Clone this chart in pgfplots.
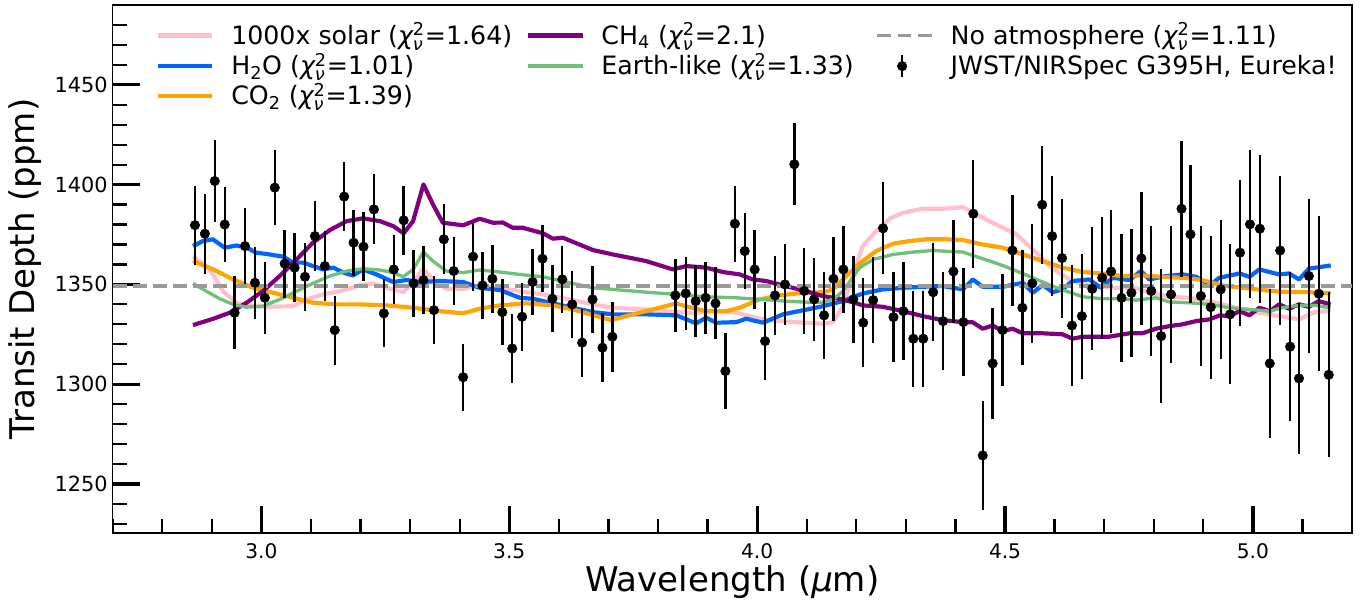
\documentclass[border=0pt]{standalone}
\usepackage{fontspec}
\setmainfont{DejaVu Sans}
\usepackage{amsmath}
\usepackage{pgfplots}
\usepackage{pgfplotstable}
\pgfplotsset{compat=1.18}

\definecolor{pinkc}{HTML}{FFC0CB}
\definecolor{bluec}{HTML}{0066FF}
\definecolor{orangec}{HTML}{FFA500}
\definecolor{purplec}{HTML}{800080}
\definecolor{greenc}{HTML}{70C07A}
\definecolor{grayc}{HTML}{999999}

\newcommand{\chinu}{$\text{\itshape χ}^{\text{2}}_{\text{\itshape ν}}$}

% observed spectrum: wavelength, depth, 1 sigma
\pgfplotstableread{
w d e
2.866 1379.7 19.8
2.886 1375.4 20.0
2.906 1401.8 20.6
2.926 1380.0 19.0
2.946 1335.8 18.4
2.967 1369.2 19.0
2.987 1350.8 18.0
3.007 1343.3 18.0
3.027 1398.5 18.9
3.047 1360.4 17.0
3.067 1358.4 17.2
3.088 1353.8 17.0
3.108 1374.2 17.7
3.128 1359.2 17.5
3.148 1327.1 17.3
3.167 1394.0 17.3
3.186 1370.9 16.5
3.206 1368.9 17.4
3.227 1387.6 17.5
3.247 1335.5 17.0
3.267 1357.5 17.3
3.287 1382.1 17.4
3.307 1350.5 16.9
3.327 1352.2 17.0
3.348 1337.1 17.0
3.368 1372.6 17.5
3.388 1356.7 17.2
3.407 1303.5 16.7
3.427 1363.9 17.0
3.446 1349.5 16.9
3.466 1352.8 17.0
3.486 1336.1 16.7
3.506 1317.9 17.1
3.526 1333.8 17.0
3.547 1351.2 16.7
3.567 1362.9 16.7
3.587 1342.8 16.7
3.607 1352.5 16.9
3.627 1340.0 16.7
3.647 1320.8 17.1
3.668 1342.5 16.9
3.688 1318.3 17.3
3.708 1323.8 17.5
3.835 1344.5 18.4
3.856 1345.5 18.4
3.876 1341.6 18.0
3.896 1343.3 18.1
3.916 1340.5 18.0
3.936 1306.6 19.2
3.955 1380.4 19.0
3.975 1366.7 19.0
3.995 1357.5 19.7
4.016 1321.6 19.4
4.036 1344.5 19.6
4.056 1350.0 20.3
4.075 1410.2 20.5
4.095 1346.7 21.3
4.115 1342.5 20.9
4.135 1334.5 21.7
4.154 1352.8 21.1
4.174 1357.5 21.6
4.194 1342.5 21.7
4.214 1330.8 22.3
4.234 1342.1 21.7
4.254 1378.1 23.0
4.275 1333.6 22.7
4.295 1336.6 24.4
4.315 1322.8 24.0
4.335 1322.8 24.0
4.355 1346.1 24.4
4.375 1331.6 24.5
4.396 1356.5 25.9
4.416 1331.1 26.9
4.436 1385.4 27.0
4.455 1264.3 27.5
4.475 1310.4 27.8
4.495 1327.1 28.0
4.515 1367.0 27.7
4.535 1338.3 28.7
4.555 1350.5 29.7
4.575 1389.9 29.5
4.595 1374.2 30.0
4.615 1363.2 29.8
4.635 1329.4 30.5
4.655 1334.1 31.3
4.676 1347.8 30.9
4.696 1353.3 30.7
4.714 1356.5 31.0
4.735 1343.3 32.0
4.755 1345.8 32.2
4.775 1363.0 33.2
4.795 1346.7 32.7
4.815 1324.1 33.6
4.835 1345.0 34.3
4.856 1387.9 34.0
4.874 1375.1 34.5
4.895 1344.2 35.1
4.915 1338.6 35.8
4.935 1347.5 34.9
4.954 1335.0 35.1
4.974 1365.9 36.5
4.994 1380.1 37.0
5.014 1377.9 37.0
5.034 1310.4 37.4
5.055 1367.0 37.5
5.075 1318.8 37.4
5.093 1302.9 37.8
5.113 1354.2 38.4
5.133 1345.3 38.9
5.153 1304.7 41.4
}\obs

\pgfplotstableread{
w d
2.862 1364.2
2.896 1357.5
2.923 1346.6
2.950 1340.8
2.977 1339.1
3.010 1338.8
3.064 1339.1
3.091 1342.5
3.124 1345.0
3.158 1346.6
3.198 1349.5
3.225 1350.5
3.252 1348.3
3.286 1346.1
3.306 1350.8
3.326 1357.9
3.346 1352.5
3.373 1347.8
3.407 1347.8
3.440 1349.5
3.481 1348.3
3.521 1346.6
3.568 1345.0
3.622 1342.5
3.669 1340.0
3.709 1338.3
3.776 1337.5
3.837 1336.1
3.870 1335.7
3.911 1336.6
3.958 1335.8
4.005 1332.8
4.045 1331.6
4.099 1330.8
4.132 1330.3
4.153 1331.1
4.173 1339.1
4.190 1352.5
4.213 1369.2
4.240 1376.7
4.267 1382.9
4.294 1385.9
4.334 1387.9
4.374 1387.9
4.415 1388.7
4.455 1383.4
4.489 1379.2
4.523 1375.1
4.563 1365.9
4.596 1357.9
4.630 1352.5
4.670 1349.2
4.724 1348.3
4.764 1348.3
4.791 1345.8
4.832 1343.8
4.872 1343.3
4.926 1340.8
4.966 1338.3
5.013 1335.8
5.053 1334.1
5.093 1332.5
5.120 1335.8
5.157 1337.1
}\solar

\pgfplotstableread{
w d
2.862 1369.2
2.882 1371.7
2.902 1372.6
2.926 1368.4
2.950 1369.5
2.970 1368.4
2.990 1365.9
3.017 1365.0
3.044 1363.9
3.064 1360.9
3.084 1360.9
3.104 1359.2
3.124 1357.5
3.145 1358.4
3.165 1355.9
3.185 1354.5
3.205 1357.5
3.232 1355.0
3.266 1351.2
3.293 1352.2
3.319 1351.2
3.360 1351.7
3.407 1351.2
3.440 1348.3
3.481 1347.2
3.521 1343.3
3.548 1342.8
3.588 1340.5
3.628 1338.3
3.669 1336.1
3.709 1335.0
3.776 1335.0
3.837 1334.5
3.857 1332.5
3.877 1330.5
3.897 1333.3
3.918 1330.8
3.958 1331.1
3.978 1332.8
4.012 1330.8
4.052 1335.0
4.092 1337.0
4.133 1339.1
4.173 1341.6
4.203 1344.6
4.220 1345.8
4.253 1347.5
4.294 1348.3
4.334 1348.8
4.374 1349.2
4.415 1347.5
4.435 1352.5
4.455 1348.8
4.495 1348.8
4.536 1350.8
4.556 1345.8
4.576 1349.7
4.596 1346.1
4.616 1347.5
4.636 1351.7
4.670 1352.5
4.693 1348.3
4.717 1353.3
4.751 1352.2
4.774 1356.7
4.791 1352.5
4.825 1354.2
4.859 1355.0
4.886 1353.8
4.913 1349.5
4.932 1353.3
4.973 1355.5
4.993 1353.8
5.013 1357.5
5.053 1355.0
5.073 1355.5
5.093 1352.5
5.113 1357.9
5.157 1359.5
}\water

\pgfplotstableread{
w d
2.862 1361.7
2.903 1357.5
2.943 1352.5
2.983 1348.3
3.024 1345.8
3.064 1343.3
3.104 1340.8
3.151 1340.0
3.198 1340.0
3.252 1339.5
3.306 1338.3
3.360 1336.6
3.407 1335.5
3.440 1337.8
3.481 1339.5
3.534 1340.5
3.588 1339.5
3.642 1336.6
3.676 1334.1
3.706 1332.1
3.749 1335.0
3.803 1338.3
3.837 1340.5
3.857 1339.0
3.897 1336.6
3.938 1336.6
3.965 1338.3
4.005 1342.5
4.045 1344.5
4.092 1345.8
4.133 1346.1
4.153 1347.5
4.180 1354.2
4.207 1360.5
4.240 1366.7
4.274 1370.4
4.307 1371.7
4.341 1372.6
4.381 1372.6
4.415 1372.2
4.455 1370.0
4.495 1368.4
4.536 1365.0
4.576 1361.7
4.616 1358.4
4.657 1356.2
4.697 1355.4
4.737 1354.2
4.777 1354.5
4.817 1353.8
4.858 1353.3
4.898 1352.2
4.938 1349.5
4.979 1348.3
5.019 1347.2
5.059 1346.3
5.113 1346.1
5.157 1345.5
}\cotwo

\pgfplotstableread{
w d
2.862 1329.6
2.903 1332.8
2.936 1335.8
2.970 1340.8
3.003 1346.6
3.037 1354.2
3.071 1362.5
3.104 1370.9
3.138 1377.2
3.172 1381.7
3.205 1383.1
3.239 1381.7
3.266 1379.2
3.287 1375.6
3.306 1381.7
3.327 1400.1
3.346 1390.1
3.366 1380.9
3.407 1379.6
3.440 1382.9
3.467 1380.9
3.487 1381.0
3.507 1378.4
3.527 1378.4
3.568 1375.6
3.588 1372.9
3.608 1373.4
3.669 1367.2
3.709 1365.0
3.776 1361.7
3.830 1357.5
3.857 1359.2
3.897 1358.4
3.931 1356.2
3.965 1355.0
3.991 1352.5
4.018 1351.7
4.052 1349.5
4.099 1346.6
4.132 1344.2
4.166 1342.8
4.193 1341.1
4.213 1339.5
4.253 1338.8
4.294 1336.6
4.334 1334.1
4.374 1332.1
4.415 1331.1
4.435 1331.0
4.455 1327.8
4.475 1329.4
4.495 1326.6
4.515 1327.8
4.536 1325.5
4.576 1325.5
4.616 1325.0
4.636 1322.8
4.657 1323.8
4.710 1323.8
4.751 1325.5
4.777 1325.5
4.804 1327.8
4.832 1329.1
4.858 1330.0
4.885 1331.6
4.913 1332.5
4.933 1334.5
4.953 1334.1
4.973 1336.6
4.993 1334.5
5.013 1338.3
5.034 1336.6
5.053 1340.0
5.073 1337.8
5.093 1340.0
5.113 1338.8
5.133 1341.6
5.157 1340.0
}\methane

\pgfplotstableread{
w d
2.862 1350.5
2.889 1346.6
2.916 1342.8
2.943 1340.0
2.970 1338.6
3.003 1339.1
3.037 1342.5
3.071 1346.6
3.104 1350.5
3.138 1354.2
3.172 1356.7
3.205 1357.9
3.239 1357.2
3.266 1355.9
3.286 1353.8
3.306 1357.5
3.327 1366.2
3.346 1361.7
3.373 1356.7
3.407 1355.9
3.440 1357.2
3.481 1356.2
3.521 1355.0
3.568 1353.8
3.615 1351.2
3.669 1348.3
3.709 1347.5
3.776 1346.1
3.837 1345.0
3.897 1343.8
3.958 1343.3
4.005 1342.5
4.059 1341.6
4.099 1341.1
4.132 1341.1
4.153 1342.5
4.173 1346.6
4.190 1352.5
4.207 1358.4
4.234 1362.5
4.274 1365.0
4.315 1366.2
4.354 1367.0
4.388 1366.5
4.415 1366.2
4.455 1362.9
4.495 1359.5
4.536 1355.4
4.576 1351.2
4.616 1347.2
4.657 1343.8
4.697 1342.8
4.737 1342.8
4.764 1342.1
4.804 1343.3
4.832 1341.2
4.872 1340.8
4.913 1340.0
4.953 1338.3
4.993 1337.5
5.034 1336.6
5.059 1338.3
5.093 1339.5
5.126 1339.5
5.157 1338.3
}\earth

\begin{document}
\begin{tikzpicture}
\begin{axis}[
  scale only axis,
  width=892.3pt, height=380.2pt,
  xmin=2.7, xmax=5.2, ymin=1225.4, ymax=1490,
  axis line style={line width=1.1pt, black},
  xtick={3.0,3.5,4.0,4.5,5.0},
  minor xtick={2.7,2.8,2.9,3.1,3.2,3.3,3.4,3.6,3.7,3.8,3.9,4.1,4.2,4.3,4.4,4.6,4.7,4.8,4.9,5.1,5.2},
  ytick={1250,1300,1350,1400,1450},
  minor ytick={1230,1240,1260,1270,1280,1290,1310,1320,1330,1340,1360,1370,1380,1390,1410,1420,1430,1440,1460,1470,1480,1490},
  tick align=inside, xtick pos=bottom, ytick pos=left,
  major tick length=19.4pt, minor tick length=10pt,
  major tick style={line width=2.3pt, black},
  minor tick style={line width=1.6pt, black},
  scaled ticks=false,
  /pgf/number format/assume math mode=true,
  xticklabel style={font=\fontsize{14.5}{17}\selectfont, yshift=-4pt,
    /pgf/number format/.cd, fixed, fixed zerofill, precision=1},
  yticklabel style={font=\fontsize{15}{18}\selectfont,
    /pgf/number format/.cd, 1000 sep={}},
  xlabel={Wavelength ({\itshape μ}m)},
  ylabel={Transit Depth (ppm)},
  xlabel style={font=\fontsize{24.5}{28}\selectfont, at={(axis description cs:0.5,-0.1112)}, anchor=base},
  ylabel style={font=\fontsize{24.5}{28}\selectfont, at={(axis description cs:-0.0627,0.5)}, anchor=base, rotate=0},
  legend columns=3,
  legend image code/.code={\draw[#1] (0pt,6.3pt) -- (39.4pt,6.3pt); \path (0pt,6.3pt) (51.5pt,6.3pt);},
  legend style={draw=none, fill=none, inner sep=0pt, row sep=3.1pt,
    at={(axis description cs:0.0344,0.9643)}, anchor=north west,
    font=\fontsize{18.2}{21}\selectfont,
    nodes={inner xsep=0pt, inner ysep=0pt, text height=14.5pt, text depth=4pt, anchor=base west, align=left}},
]
\addplot[pinkc, line width=3pt, line join=round, forget plot] table[x=w, y=d] {\solar};
\addplot[bluec, line width=3pt, line join=round, forget plot] table[x=w, y=d] {\water};
\addplot[orangec, line width=3pt, line join=round, forget plot] table[x=w, y=d] {\cotwo};
\addplot[purplec, line width=3pt, line join=round, forget plot] table[x=w, y=d] {\methane};
\addplot[greenc, line width=2.4pt, line join=round, forget plot] table[x=w, y=d] {\earth};
\addplot[grayc, line width=2.4pt, dash pattern=on 10pt off 4.5pt, forget plot] coordinates {(2.7,1349.2) (5.2,1349.2)};
\addplot[black, only marks, mark=*, mark size=3.4pt, forget plot,
  error bars/.cd, y dir=both, y explicit, error mark=none,
  error bar style={line width=1.7pt, black}]
  table[x=w, y=d, y error=e] {\obs};

% legend, filled row by row
\addlegendimage{pinkc, line width=3pt}
\addlegendentry{\makebox[212pt][l]{1000x solar (\chinu=1.64)}}
\addlegendimage{purplec, line width=3pt}
\addlegendentry{\makebox[197.5pt][l]{CH\textsubscript{4} (\chinu=2.1)}}
\addlegendimage{grayc, line width=2.4pt, dash pattern=on 10pt off 4.5pt}
\addlegendentry{No atmosphere (\chinu=1.11)}
\addlegendimage{bluec, line width=3pt}
\addlegendentry{H\textsubscript{2}O (\chinu=1.01)}
\addlegendimage{greenc, line width=2.4pt}
\addlegendentry{Earth-like (\chinu=1.33)}
\addlegendimage{legend image code/.code={\draw[black, line width=1.7pt] (17.8pt,-1.5pt) -- (17.8pt,14.1pt); \fill[black] (17.8pt,6.3pt) circle[radius=3.4pt]; \path (0pt,6.3pt) (51.5pt,6.3pt);}}
\addlegendentry{JWST/NIRSpec G395H, Eureka!}
\addlegendimage{orangec, line width=3pt}
\addlegendentry{CO\textsubscript{2} (\chinu=1.39)}
\end{axis}
\pgfresetboundingbox
\path[use as bounding box] ([shift={(-81.1pt,-51.8pt)}]current axis.south west) rectangle ([shift={(12.2pt,3.6pt)}]current axis.north east);
\end{tikzpicture}
\end{document}
